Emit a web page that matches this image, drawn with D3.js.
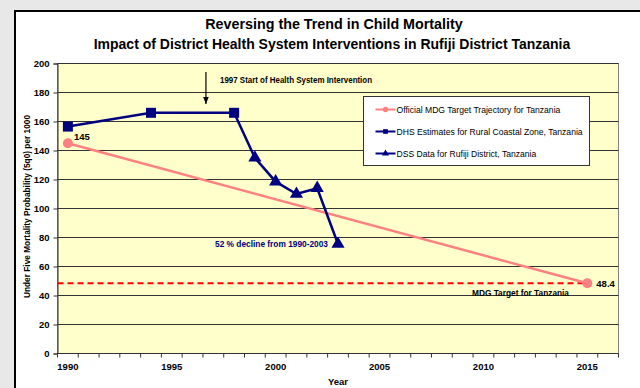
<!DOCTYPE html>
<html>
<head>
<meta charset="utf-8">
<script src="https://cdn.jsdelivr.net/npm/d3@7"></script>
<style>
  body { margin: 0; background: #e8e8e8; }
  svg { display: block; }
  text { font-family: "Liberation Sans Narrow", "Arial Narrow", "Liberation Sans", Arial, sans-serif; }
  .legend text { font-family: "Liberation Sans", Arial, sans-serif; }
</style>
</head>
<body>
<div id="chart"></div>
<script>
// categories (Excel category axis, one per year)
var years = d3.range(1990, 2017);
var tickYears = [1990, 1995, 2000, 2005, 2010, 2015];
var yTicks = [0, 20, 40, 60, 80, 100, 120, 140, 160, 180, 200];

// series
var mdgYears = [1990, 2015];
var mdgValues = [145, 48.4];
var dhsYears = [1990, 1994, 1998];
var dhsValues = [156.5, 166, 166];
var dssYears = [1998, 1999, 2000, 2001, 2002, 2003];
var dssValues = [166, 135, 118.5, 110, 114, 75.5];
var targetValue = 48.4;
var interventionYear = 1997;

var width = 640, height = 388;
var margin = {left: 57.5, right: 21.5, top: 63.5, bottom: 34.5};

var svg = d3.select("#chart").append("svg")
    .attr("width", width).attr("height", height);

// chart area box
svg.append("rect")
    .attr("x", 15).attr("y", 11)
    .attr("width", 640).attr("height", 400)
    .attr("fill", "#ffffff")
    .attr("stroke", "#000").attr("stroke-width", 2);

var x = d3.scaleBand()
    .domain(years)
    .range([margin.left, width - margin.right]);
var y = d3.scaleLinear()
    .domain([0, 200])
    .range([height - margin.bottom, margin.top]);
function cx(yr) { return x(yr) + x.bandwidth() / 2; }

var navy = "#000080", pink = "#ff8080";

// plot area
svg.append("rect")
    .attr("x", margin.left).attr("y", margin.top)
    .attr("width", width - margin.right - margin.left)
    .attr("height", y(0) - margin.top)
    .attr("fill", "#ffffcc")
    .attr("stroke", "#808080").attr("stroke-width", 1);

// gridlines
svg.append("g").selectAll("line")
    .data(yTicks.filter(function(d) { return d > 0; }))
    .enter().append("line")
    .attr("x1", margin.left).attr("x2", width - margin.right)
    .attr("y1", function(d) { return y(d); })
    .attr("y2", function(d) { return y(d); })
    .attr("stroke", "#333").attr("stroke-width", 1);

// y axis
var yAxis = svg.append("g")
    .attr("transform", "translate(" + margin.left + ",0)")
    .call(d3.axisLeft(y).tickValues(yTicks).tickSize(4).tickPadding(4));
yAxis.select(".domain").attr("stroke", "#333");
yAxis.selectAll(".tick line").attr("stroke", "#333");
yAxis.selectAll("text")
    .attr("font-size", 9.5).attr("font-weight", "bold").attr("fill", "#000")
    .attr("font-family", "Liberation Sans Narrow, Arial Narrow, sans-serif");

// x axis: ticks between categories
var xg = svg.append("g");
xg.append("line")
    .attr("x1", margin.left).attr("x2", width - margin.right)
    .attr("y1", y(0)).attr("y2", y(0))
    .attr("stroke", "#333");
xg.selectAll("line.tk")
    .data(years.concat([2017]))
    .enter().append("line")
    .attr("class", "tk")
    .attr("x1", function(d) { return d === 2017 ? width - margin.right : x(d); })
    .attr("x2", function(d) { return d === 2017 ? width - margin.right : x(d); })
    .attr("y1", y(0)).attr("y2", y(0) + 4)
    .attr("stroke", "#333");
xg.selectAll("text")
    .data(tickYears)
    .enter().append("text")
    .attr("x", function(d) { return cx(d); })
    .attr("y", y(0) + 16)
    .attr("text-anchor", "middle")
    .attr("font-size", 9.5).attr("font-weight", "bold")
    .text(function(d) { return d; });

// target dashed line
svg.append("line")
    .attr("x1", margin.left).attr("x2", cx(2015))
    .attr("y1", y(targetValue)).attr("y2", y(targetValue))
    .attr("stroke", "#ff0000").attr("stroke-width", 2)
    .attr("stroke-dasharray", "6,4");

var line = d3.line()
    .x(function(d) { return cx(d[0]); })
    .y(function(d) { return y(d[1]); });

var mdg = d3.zip(mdgYears, mdgValues);
var dhs = d3.zip(dhsYears, dhsValues);
var dss = d3.zip(dssYears, dssValues);

svg.append("path").attr("d", line(mdg))
    .attr("fill", "none").attr("stroke", pink).attr("stroke-width", 2.5);
svg.selectAll("circle.mdg").data(mdg).enter().append("circle")
    .attr("class", "mdg")
    .attr("cx", function(d) { return cx(d[0]); })
    .attr("cy", function(d) { return y(d[1]); })
    .attr("r", 5).attr("fill", pink);

svg.append("path").attr("d", line(dss))
    .attr("fill", "none").attr("stroke", navy).attr("stroke-width", 2.5);
svg.append("path").attr("d", line(dhs))
    .attr("fill", "none").attr("stroke", navy).attr("stroke-width", 2.5);

var tri = d3.symbol().type(d3.symbolTriangle).size(75);
svg.selectAll("path.dss").data(dss.slice(1)).enter().append("path")
    .attr("class", "dss")
    .attr("d", tri)
    .attr("transform", function(d) { return "translate(" + cx(d[0]) + "," + y(d[1]) + ")"; })
    .attr("fill", navy);

svg.selectAll("rect.dhs").data(dhs).enter().append("rect")
    .attr("class", "dhs")
    .attr("x", function(d) { return cx(d[0]) - 5; })
    .attr("y", function(d) { return y(d[1]) - 5; })
    .attr("width", 10).attr("height", 10)
    .attr("fill", navy);

// data labels / annotations
svg.append("text")
    .attr("x", cx(1990) + 6).attr("y", y(mdgValues[0]) - 3)
    .attr("font-size", 9.5).attr("font-weight", "bold")
    .text("145");
svg.append("text")
    .attr("x", cx(2015) + 9).attr("y", y(mdgValues[1]) + 4)
    .attr("font-size", 9.5).attr("font-weight", "bold")
    .text("48.4");
svg.append("text")
    .attr("x", 472).attr("y", y(targetValue) + 13)
    .attr("font-size", 9.5).attr("font-weight", "bold")
    .attr("textLength", 97).attr("lengthAdjust", "spacingAndGlyphs")
    .text("MDG Target for Tanzania");
svg.append("text")
    .attr("x", 215).attr("y", 247)
    .attr("font-size", 9.5).attr("font-weight", "bold").attr("fill", navy)
    .attr("textLength", 113).attr("lengthAdjust", "spacingAndGlyphs")
    .text("52 % decline from 1990-2003");

// intervention arrow
svg.append("defs").append("marker")
    .attr("id", "arrow")
    .attr("viewBox", "0 0 10 10").attr("refX", 10).attr("refY", 5)
    .attr("markerWidth", 6).attr("markerHeight", 6)
    .attr("orient", "auto")
    .append("path").attr("d", "M0,1 L10,5 L0,9 Z").attr("fill", "#000");
svg.append("line")
    .attr("x1", x(interventionYear) + 3).attr("x2", x(interventionYear) + 3)
    .attr("y1", 72).attr("y2", 104)
    .attr("stroke", "#000").attr("stroke-width", 1.2)
    .attr("marker-end", "url(#arrow)");
svg.append("text")
    .attr("x", 220).attr("y", 83)
    .attr("font-size", 9.5).attr("font-weight", "bold")
    .attr("textLength", 152).attr("lengthAdjust", "spacingAndGlyphs")
    .text("1997 Start of Health System Intervention");

// legend
var legendItems = [
  {label: "Official MDG Target Trajectory for Tanzania", color: pink, shape: "circle"},
  {label: "DHS Estimates for Rural Coastal Zone, Tanzania", color: navy, shape: "square"},
  {label: "DSS Data for Rufiji District, Tanzania", color: navy, shape: "triangle"}
];
var lg = svg.append("g").attr("class", "legend").attr("transform", "translate(363.5,96.5)");
lg.append("rect")
    .attr("width", 226).attr("height", 69)
    .attr("fill", "#fff").attr("stroke", "#333");
var items = lg.selectAll("g").data(legendItems).enter().append("g")
    .attr("transform", function(d, i) { return "translate(0," + (13 + i * 22) + ")"; });
items.append("line")
    .attr("x1", 12).attr("x2", 32)
    .attr("stroke", function(d) { return d.color; }).attr("stroke-width", 2);
items.append("path")
    .attr("d", function(d) {
      var t = d.shape === "circle" ? d3.symbolCircle : d.shape === "square" ? d3.symbolSquare : d3.symbolTriangle;
      return d3.symbol().type(t).size(22)();
    })
    .attr("transform", "translate(22,0)")
    .attr("fill", function(d) { return d.color; });
items.append("text")
    .attr("x", 33).attr("y", 3)
    .attr("font-size", 8.6)
    .text(function(d) { return d.label; });

// titles
svg.append("text")
    .attr("x", 334).attr("y", 29)
    .attr("text-anchor", "middle")
    .attr("font-size", 14.3).attr("font-weight", "bold")
    .text("Reversing the Trend in Child Mortality");
svg.append("text")
    .attr("x", 332).attr("y", 49)
    .attr("text-anchor", "middle")
    .attr("font-size", 14).attr("font-weight", "bold")
    .text("Impact of District Health System Interventions in Rufiji District Tanzania");
svg.append("text")
    .attr("transform", "translate(29.5,206.5) rotate(-90)")
    .attr("text-anchor", "middle")
    .attr("font-size", 9.5).attr("font-weight", "bold")
    .attr("textLength", 183).attr("lengthAdjust", "spacingAndGlyphs")
    .text("Under Five Mortality Probability (5q0) per 1000");
svg.append("text")
    .attr("x", 338).attr("y", 385)
    .attr("text-anchor", "middle")
    .attr("font-size", 9.5).attr("font-weight", "bold")
    .text("Year");
</script>
</body>
</html>
